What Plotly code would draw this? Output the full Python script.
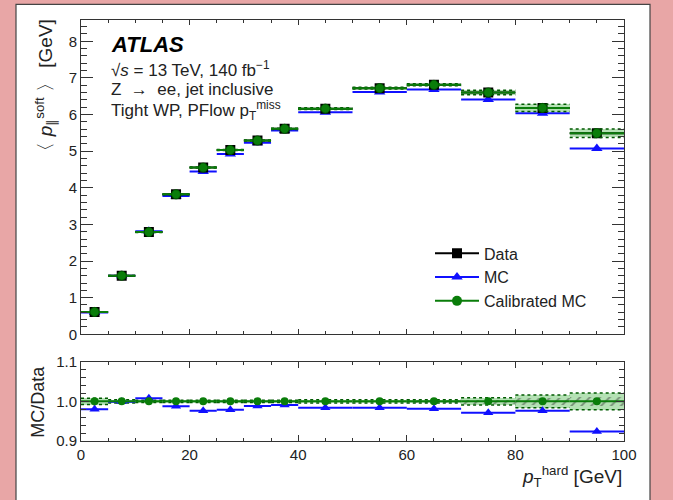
import plotly.graph_objects as go

# Binning in hard-term pT [GeV]
bin_edges = [0, 5, 10, 15, 20, 25, 30, 35, 40, 50, 60, 70, 80, 90, 100]

# Mean soft-term projection <p_par^soft> [GeV]
data_vals = [0.61, 1.60, 2.79, 3.82, 4.55, 5.03, 5.29, 5.61, 6.16, 6.72, 6.81, 6.60, 6.18, 5.49]
mc_vals = [0.598, 1.598, 2.812, 3.774, 4.441, 4.924, 5.227, 5.560, 6.061, 6.612, 6.681, 6.409, 6.032, 5.073]
calib_vals = [0.61, 1.60, 2.79, 3.82, 4.55, 5.03, 5.29, 5.61, 6.16, 6.72, 6.81, 6.60, 6.18, 5.49]

# Relative uncertainties: calibration systematic band and data statistical band
calib_rel_unc = [0.008, 0.004, 0.003, 0.003, 0.003, 0.003, 0.003, 0.003, 0.004, 0.004, 0.004, 0.009, 0.016, 0.021]
data_rel_stat = [0.002, 0.001, 0.001, 0.001, 0.001, 0.001, 0.001, 0.001, 0.002, 0.002, 0.003, 0.005, 0.008, 0.012]

centers = [(a + b) / 2 for a, b in zip(bin_edges[:-1], bin_edges[1:])]
widths = [b - a for a, b in zip(bin_edges[:-1], bin_edges[1:])]
half = [w / 2 for w in widths]

mc_ratio = [m / d for m, d in zip(mc_vals, data_vals)]
calib_ratio = [c / d for c, d in zip(calib_vals, data_vals)]

GREEN = "#0a7d0a"
GREEN_DARK = "#005a00"
BAND = "rgba(40,170,40,0.35)"
BLUE = "#1010ff"
FONT = "Liberation Sans, Arial, sans-serif"
INK = "#222222"


def segments(values):
    xs, ys = [], []
    for lo, hi, v in zip(bin_edges[:-1], bin_edges[1:], values):
        xs += [lo, hi, None]
        ys += [v, v, None]
    return xs, ys


fig = go.Figure()

# ---------------- upper panel ----------------
main_lo = [c * (1 - u) for c, u in zip(calib_vals, calib_rel_unc)]
main_hi = [c * (1 + u) for c, u in zip(calib_vals, calib_rel_unc)]

fig.add_trace(go.Bar(
    x=centers, y=[h - l for h, l in zip(main_hi, main_lo)], base=main_lo, width=widths,
    marker=dict(color=BAND, line=dict(width=0)), showlegend=False,
    xaxis="x", yaxis="y", hoverinfo="skip"))

fig.add_trace(go.Scatter(
    x=centers, y=mc_vals, mode="markers",
    marker=dict(symbol="triangle-up", size=10, color=BLUE),
    error_x=dict(type="data", array=half, color=BLUE, thickness=2, width=0),
    showlegend=False, xaxis="x", yaxis="y"))

fig.add_trace(go.Scatter(
    x=centers, y=data_vals, mode="markers",
    marker=dict(symbol="square", size=10, color="black"),
    error_x=dict(type="data", array=half, color="black", thickness=2, width=0),
    showlegend=False, xaxis="x", yaxis="y"))

for band_edge in (main_lo, main_hi):
    sx, sy = segments(band_edge)
    fig.add_trace(go.Scatter(
        x=sx, y=sy, mode="lines", line=dict(color=GREEN_DARK, width=1.5, dash="dot"),
        showlegend=False, xaxis="x", yaxis="y", hoverinfo="skip"))

fig.add_trace(go.Scatter(
    x=centers, y=calib_vals, mode="markers",
    marker=dict(symbol="circle", size=9, color=GREEN, line=dict(color=GREEN_DARK, width=1)),
    error_x=dict(type="data", array=half, color=GREEN, thickness=2, width=0),
    showlegend=False, xaxis="x", yaxis="y"))

# legend entries (line + marker style)
for name, color, symbol in [("Data", "black", "square"),
                            ("MC", BLUE, "triangle-up"),
                            ("Calibrated MC", GREEN, "circle")]:
    fig.add_trace(go.Scatter(
        x=[None], y=[None], mode="lines+markers", name=name,
        line=dict(color=color, width=2),
        marker=dict(symbol=symbol, size=10, color=color),
        xaxis="x", yaxis="y"))

# ---------------- ratio panel ----------------
r_lo = [r * (1 - u) for r, u in zip(calib_ratio, calib_rel_unc)]
r_hi = [r * (1 + u) for r, u in zip(calib_ratio, calib_rel_unc)]

fig.add_trace(go.Bar(
    x=centers, y=[h - l for h, l in zip(r_hi, r_lo)], base=r_lo, width=widths,
    marker=dict(color=BAND, line=dict(width=0)), showlegend=False,
    xaxis="x2", yaxis="y2", hoverinfo="skip"))

fig.add_trace(go.Bar(
    x=centers, y=[2 * s for s in data_rel_stat], base=[1 - s for s in data_rel_stat], width=widths,
    marker=dict(color="rgba(0,0,0,0)", line=dict(width=0),
                pattern=dict(shape="/", fgcolor="#333333", bgcolor="rgba(0,0,0,0)",
                             size=7, solidity=0.25)),
    showlegend=False, xaxis="x2", yaxis="y2", hoverinfo="skip"))

for band_edge in (r_lo, r_hi):
    sx, sy = segments(band_edge)
    fig.add_trace(go.Scatter(
        x=sx, y=sy, mode="lines", line=dict(color=GREEN_DARK, width=1.5, dash="dot"),
        showlegend=False, xaxis="x2", yaxis="y2", hoverinfo="skip"))

fig.add_trace(go.Scatter(
    x=centers, y=mc_ratio, mode="markers",
    marker=dict(symbol="triangle-up", size=9, color=BLUE),
    error_x=dict(type="data", array=half, color=BLUE, thickness=2, width=0),
    showlegend=False, xaxis="x2", yaxis="y2"))

fig.add_trace(go.Scatter(
    x=centers, y=calib_ratio, mode="markers",
    marker=dict(symbol="circle", size=8, color=GREEN),
    error_x=dict(type="data", array=half, color=GREEN, thickness=2, width=0),
    showlegend=False, xaxis="x2", yaxis="y2"))

# ---------------- layout ----------------
W, H = 673, 500
ML, MR, MT, MB = 81, 49, 11, 59
PW, PH = W - ML - MR, H - MT - MB


def px_x(px):
    return (px - ML) / PW


def px_y(py):
    return (H - MB - py) / PH


axis_common = dict(
    showline=True, linecolor="#333333", linewidth=1, mirror="ticks",
    ticks="inside", tickcolor="#333333", showgrid=False, zeroline=False,
    tickfont=dict(family=FONT, size=15, color=INK),
)

fig.update_layout(
    width=W, height=H,
    margin=dict(l=ML, r=MR, t=MT, b=MB),
    paper_bgcolor="#e8a6a6",
    plot_bgcolor="white",
    barmode="overlay",
    bargap=0,
    font=dict(family=FONT, color=INK),
    xaxis=dict(domain=[0, 1], range=[0, 100], anchor="y", showticklabels=False,
               tick0=0, dtick=20, ticklen=5,
               minor=dict(dtick=5, ticklen=3, ticks="inside", tickcolor="#333333"),
               **axis_common),
    yaxis=dict(domain=[px_y(332), 1], range=[0, 8.58], anchor="x",
               tick0=0, dtick=1, ticklen=12,
               minor=dict(dtick=0.2, ticklen=6, ticks="inside", tickcolor="#333333"),
               **axis_common),
    xaxis2=dict(domain=[0, 1], range=[0, 100], anchor="y2", matches="x",
                tick0=0, dtick=20, ticklen=6, ticklabelstandoff=0,
                minor=dict(dtick=5, ticklen=3, ticks="inside", tickcolor="#333333"),
                **axis_common),
    yaxis2=dict(domain=[0, px_y(360)], range=[0.9, 1.1], anchor="x2",
                tickvals=[0.9, 1.0, 1.1], ticktext=["0.9", "1.0", "1.1"], ticklen=8,
                minor=dict(dtick=0.02, ticklen=5, ticks="inside", tickcolor="#333333"),
                **axis_common),
    legend=dict(x=px_x(430), y=px_y(232), xanchor="left", yanchor="top",
                bgcolor="rgba(0,0,0,0)", font=dict(family=FONT, size=16, color=INK),
                tracegroupgap=0, itemwidth=44),
    shapes=[
        dict(type="rect", xref="paper", yref="paper", layer="below",
             x0=px_x(16), x1=px_x(650), y0=px_y(H + 5), y1=px_y(-5),
             fillcolor="white", line=dict(color="#444444", width=1.2)),
    ],
    annotations=[
        dict(text="<b><i>ATLAS</i></b>", x=px_x(109), y=px_y(36), xref="paper", yref="paper",
             xanchor="left", yanchor="middle", showarrow=False,
             font=dict(family=FONT, size=22, color="black")),
        dict(text="√<i>s</i> = 13 TeV, 140 fb<sup>−1</sup>", x=px_x(109), y=px_y(61),
             xref="paper", yref="paper", xanchor="left", yanchor="middle", showarrow=False,
             font=dict(family=FONT, size=17, color=INK)),
        dict(text="Z  →  ee, jet inclusive", x=px_x(109), y=px_y(82),
             xref="paper", yref="paper", xanchor="left", yanchor="middle", showarrow=False,
             font=dict(family=FONT, size=17, color=INK)),
        dict(text="Tight WP, PFlow p<sub>T</sub><sup>miss</sup>", x=px_x(109), y=px_y(103),
             xref="paper", yref="paper", xanchor="left", yanchor="middle", showarrow=False,
             font=dict(family=FONT, size=17, color=INK)),
        dict(text="〈 <i>p</i><sub>∥</sub><sup>soft</sup> 〉 [GeV]", x=px_x(46), y=px_y(9),
             xref="paper", yref="paper", xanchor="center", yanchor="top", textangle=-90,
             showarrow=False, font=dict(family=FONT, size=19, color=INK)),
        dict(text="MC/Data", x=px_x(38), y=px_y(401),
             xref="paper", yref="paper", xanchor="center", yanchor="middle", textangle=-90,
             showarrow=False, font=dict(family=FONT, size=18, color=INK)),
        dict(text="<i>p</i><sub>T</sub><sup>hard</sup> [GeV]", x=1, y=px_y(477),
             xref="paper", yref="paper", xanchor="right", yanchor="middle",
             showarrow=False, font=dict(family=FONT, size=19, color=INK)),
    ],
)

fig.write_html("out.html")
